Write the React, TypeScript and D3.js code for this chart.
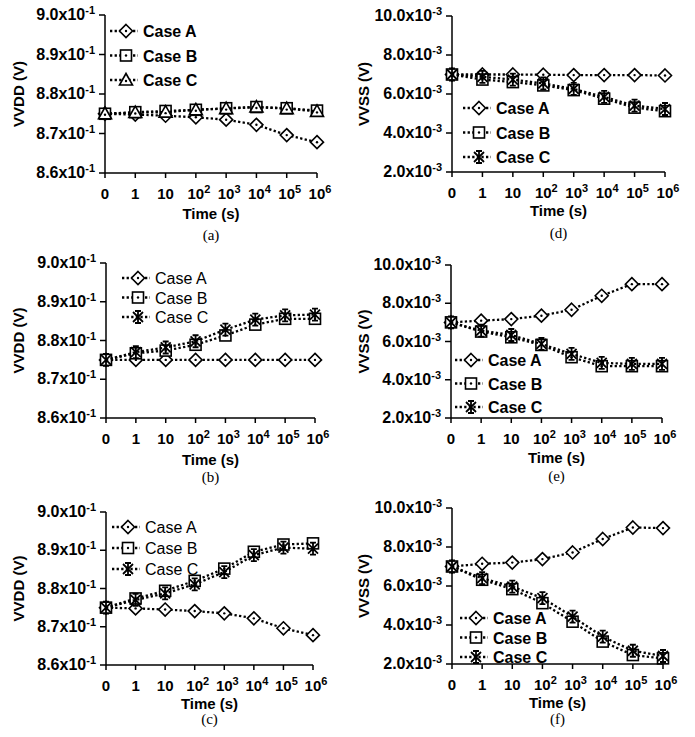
import React from 'react';
import * as d3 from 'd3';

// Time axis categories (base and exponent)
const timeBase = ['0', '1', '10', '10', '10', '10', '10', '10'];
const timeExp = ['', '', '', '2', '3', '4', '5', '6'];

// Y tick values
const vddTicks = [0.86, 0.87, 0.88, 0.89, 0.9];
const vssTicks = [0.002, 0.004, 0.006, 0.008, 0.01];

const caseNames = ['Case A', 'Case B', 'Case C'];

// (a) VVDD
const aCaseA = [0.875, 0.8748, 0.8745, 0.8741, 0.8735, 0.8722, 0.8696, 0.8678];
const aCaseB = [0.875, 0.8754, 0.8757, 0.876, 0.8764, 0.8767, 0.8764, 0.8758];
const aCaseC = [0.875, 0.8753, 0.8754, 0.876, 0.8763, 0.8767, 0.8763, 0.8756];
// (b) VVDD
const bCaseA = [0.875, 0.875, 0.875, 0.875, 0.875, 0.875, 0.875, 0.875];
const bCaseB = [0.875, 0.8767, 0.8774, 0.8789, 0.8813, 0.8841, 0.8856, 0.8856];
const bCaseC = [0.875, 0.877, 0.8782, 0.8798, 0.8828, 0.8854, 0.8865, 0.8867];
// (c) VVDD
const cCaseA = [0.875, 0.8748, 0.8745, 0.8741, 0.8735, 0.8722, 0.8696, 0.8678];
const cCaseB = [0.875, 0.8774, 0.8794, 0.882, 0.8852, 0.8896, 0.8915, 0.8918];
const cCaseC = [0.875, 0.877, 0.8787, 0.8811, 0.8843, 0.8887, 0.8907, 0.8904];
// (d) VVSS
const dCaseA = [0.007, 0.007, 0.007, 0.00699, 0.00697, 0.00697, 0.00697, 0.00695];
const dCaseB = [0.007, 0.00674, 0.00661, 0.00644, 0.0062, 0.00576, 0.0053, 0.00512];
const dCaseC = [0.007, 0.00688, 0.00674, 0.00654, 0.00626, 0.00585, 0.0054, 0.00523];
// (e) VVSS
const eCaseA = [0.007, 0.00709, 0.00717, 0.00735, 0.00766, 0.00839, 0.009, 0.009];
const eCaseB = [0.007, 0.00652, 0.00622, 0.00582, 0.00518, 0.00471, 0.00471, 0.00471];
const eCaseC = [0.007, 0.00657, 0.00634, 0.00587, 0.00535, 0.00488, 0.00483, 0.00483];
// (f) VVSS
const fCaseA = [0.007, 0.00714, 0.0072, 0.00738, 0.00772, 0.00841, 0.009, 0.00897];
const fCaseB = [0.007, 0.00632, 0.00584, 0.00512, 0.00417, 0.00315, 0.00246, 0.00229];
const fCaseC = [0.007, 0.0064, 0.00597, 0.00538, 0.00443, 0.0034, 0.00268, 0.00241];

type MarkerKind = 'diamond' | 'square' | 'triangle' | 'star';

const FONT = "'Liberation Sans', Arial, sans-serif";

function Marker({ kind, x, y }: { kind: MarkerKind; x: number; y: number }) {
  const sw = 1.6;
  if (kind === 'diamond') {
    return (
      <g transform={`translate(${x},${y})`}>
        <path d="M0,-6.5L6.5,0L0,6.5L-6.5,0Z" fill="#fff" stroke="#000" strokeWidth={sw} />
        <circle r={1.2} fill="#000" />
      </g>
    );
  }
  if (kind === 'square') {
    return (
      <g transform={`translate(${x},${y})`}>
        <rect x={-5.5} y={-5.5} width={11} height={11} fill="#fff" stroke="#000" strokeWidth={sw} />
        <circle r={1.2} fill="#000" />
      </g>
    );
  }
  if (kind === 'triangle') {
    return (
      <g transform={`translate(${x},${y})`}>
        <path d="M0,-6.5L6.5,5L-6.5,5Z" fill="#fff" stroke="#000" strokeWidth={sw} />
        <circle cy={1} r={1.2} fill="#000" />
      </g>
    );
  }
  return (
    <g transform={`translate(${x},${y})`} stroke="#000" strokeWidth={1.8} fill="none">
      <path d="M-5,-5L5,5M-5,5L5,-5M0,-6L0,6M-3,-6L3,-6M-3,6L3,6" />
    </g>
  );
}

interface PanelProps {
  left: number;
  right: number;
  top: number;
  bottom: number;
  ticks: number[];
  scaleExp: number;
  digits: number;
  series: number[][];
  markers: MarkerKind[];
  legendX: number;
  legendY: number;
  legendDy: number;
  legendBold: boolean;
  yTitle: string;
  yTitleX: number;
  titleDy: number;
  caption: string;
  captionY: number;
}

function Panel(p: PanelProps) {
  const x = d3
    .scalePoint<number>()
    .domain(d3.range(timeBase.length))
    .range([p.left, p.right]);
  const y = d3
    .scaleLinear()
    .domain([p.ticks[0], p.ticks[p.ticks.length - 1]])
    .range([p.bottom, p.top]);
  const line = d3
    .line<number>()
    .x((_, i) => x(i) as number)
    .y((d) => y(d));
  const cx = (p.left + p.right) / 2;
  const cy = (p.top + p.bottom) / 2;
  const mult = Math.pow(10, p.scaleExp);

  return (
    <g>
      {/* y axis */}
      <line x1={p.left} x2={p.left} y1={p.top} y2={p.bottom} stroke="#000" strokeWidth={1.5} />
      {p.ticks.map((t) => (
        <g key={t}>
          <line x1={p.left - 6} x2={p.left} y1={y(t)} y2={y(t)} stroke="#000" strokeWidth={1.5} />
          <text
            x={p.left - 10}
            y={y(t) + 5}
            textAnchor="end"
            fontFamily={FONT}
            fontWeight="bold"
            fontSize={16}
          >
            {(t * mult).toFixed(p.digits)}x10
            <tspan fontSize={11} dy={-6}>
              {`-${p.scaleExp}`}
            </tspan>
          </text>
        </g>
      ))}
      {/* x axis */}
      <line x1={p.left} x2={p.right} y1={p.bottom} y2={p.bottom} stroke="#000" strokeWidth={1.5} />
      {timeBase.map((b, i) => (
        <g key={i}>
          <line
            x1={x(i)}
            x2={x(i)}
            y1={p.bottom}
            y2={p.bottom + 5}
            stroke="#000"
            strokeWidth={1.5}
          />
          <text
            x={(x(i) as number) + (timeExp[i] ? 3 : 0)}
            y={p.bottom + 26}
            textAnchor="middle"
            fontFamily={FONT}
            fontWeight="bold"
            fontSize={15}
          >
            {b}
            {timeExp[i] && (
              <tspan fontSize={11} dy={-6}>
                {timeExp[i]}
              </tspan>
            )}
          </text>
        </g>
      ))}
      <text
        x={cx}
        y={p.bottom + p.titleDy}
        textAnchor="middle"
        fontFamily={FONT}
        fontWeight="bold"
        fontSize={15}
      >
        Time (s)
      </text>
      <text
        transform={`translate(${p.yTitleX},${cy}) rotate(-90)`}
        textAnchor="middle"
        dominantBaseline="central"
        fontFamily={FONT}
        fontWeight="bold"
        fontSize={15}
      >
        {p.yTitle}
      </text>
      <text
        x={cx}
        y={p.captionY}
        textAnchor="middle"
        fontFamily="'Liberation Serif', 'Times New Roman', serif"
        fontSize={15}
      >
        {p.caption}
      </text>
      {/* series */}
      {p.series.map((s, si) => (
        <g key={si}>
          <path
            d={line(s) || ''}
            fill="none"
            stroke="#000"
            strokeWidth={2.3}
            strokeDasharray="2.3 2.3"
          />
          {s.map((v, i) => (
            <Marker key={i} kind={p.markers[si]} x={x(i) as number} y={y(v)} />
          ))}
        </g>
      ))}
      {/* legend */}
      {caseNames.map((name, i) => {
        const ly = p.legendY + i * p.legendDy;
        return (
          <g key={name}>
            <line
              x1={p.legendX}
              x2={p.legendX + 28}
              y1={ly}
              y2={ly}
              stroke="#000"
              strokeWidth={2.3}
              strokeDasharray="2.3 2.3"
            />
            <Marker kind={p.markers[i]} x={p.legendX + 16} y={ly} />
            <text
              x={p.legendX + 33}
              y={ly + 6}
              fontFamily={FONT}
              fontWeight={p.legendBold ? 'bold' : 'normal'}
              fontSize={16}
            >
              {name}
            </text>
          </g>
        );
      })}
    </g>
  );
}

export default function App() {
  const vdd = { ticks: vddTicks, scaleExp: 1, digits: 1, yTitle: 'VVDD (V)', yTitleX: 18 };
  const vss = { ticks: vssTicks, scaleExp: 3, digits: 1, yTitle: 'VVSS (V)', yTitleX: 363 };
  const mDTri: MarkerKind[] = ['diamond', 'square', 'triangle'];
  const mDStar: MarkerKind[] = ['diamond', 'square', 'star'];
  return (
    <svg
      width={695}
      height={737}
      style={{ position: 'absolute', left: 0, top: 0, background: '#fff' }}
    >
      <Panel
        {...vdd}
        left={105}
        right={317}
        top={15}
        bottom={173}
        series={[aCaseA, aCaseB, aCaseC]}
        markers={mDTri}
        legendX={110}
        legendY={31}
        legendDy={24.5}
        legendBold={true}
        titleDy={46}
        caption="(a)"
        captionY={240}
      />
      <Panel
        {...vdd}
        left={106}
        right={315}
        top={263}
        bottom={418}
        series={[bCaseA, bCaseB, bCaseC]}
        markers={mDStar}
        legendX={122}
        legendY={278}
        legendDy={19.5}
        legendBold={false}
        titleDy={47}
        caption="(b)"
        captionY={482}
      />
      <Panel
        {...vdd}
        left={106}
        right={313}
        top={512}
        bottom={665}
        series={[cCaseA, cCaseB, cCaseC]}
        markers={mDStar}
        legendX={112}
        legendY={527}
        legendDy={21}
        legendBold={false}
        titleDy={44}
        caption="(c)"
        captionY={724}
      />
      <Panel
        {...vss}
        left={452}
        right={665}
        top={16}
        bottom={172}
        series={[dCaseA, dCaseB, dCaseC]}
        markers={mDStar}
        legendX={463}
        legendY={108}
        legendDy={24.5}
        legendBold={true}
        titleDy={44}
        caption="(d)"
        captionY={238}
      />
      <Panel
        {...vss}
        left={451}
        right={662}
        top={265}
        bottom={418}
        series={[eCaseA, eCaseB, eCaseC]}
        markers={mDStar}
        legendX={455}
        legendY={360}
        legendDy={23.5}
        legendBold={true}
        titleDy={45}
        caption="(e)"
        captionY={481}
      />
      <Panel
        {...vss}
        left={452}
        right={663}
        top={508}
        bottom={664}
        series={[fCaseA, fCaseB, fCaseC]}
        markers={mDStar}
        legendX={460}
        legendY={618}
        legendDy={19.5}
        legendBold={true}
        titleDy={44}
        caption="(f)"
        captionY={724}
      />
    </svg>
  );
}
